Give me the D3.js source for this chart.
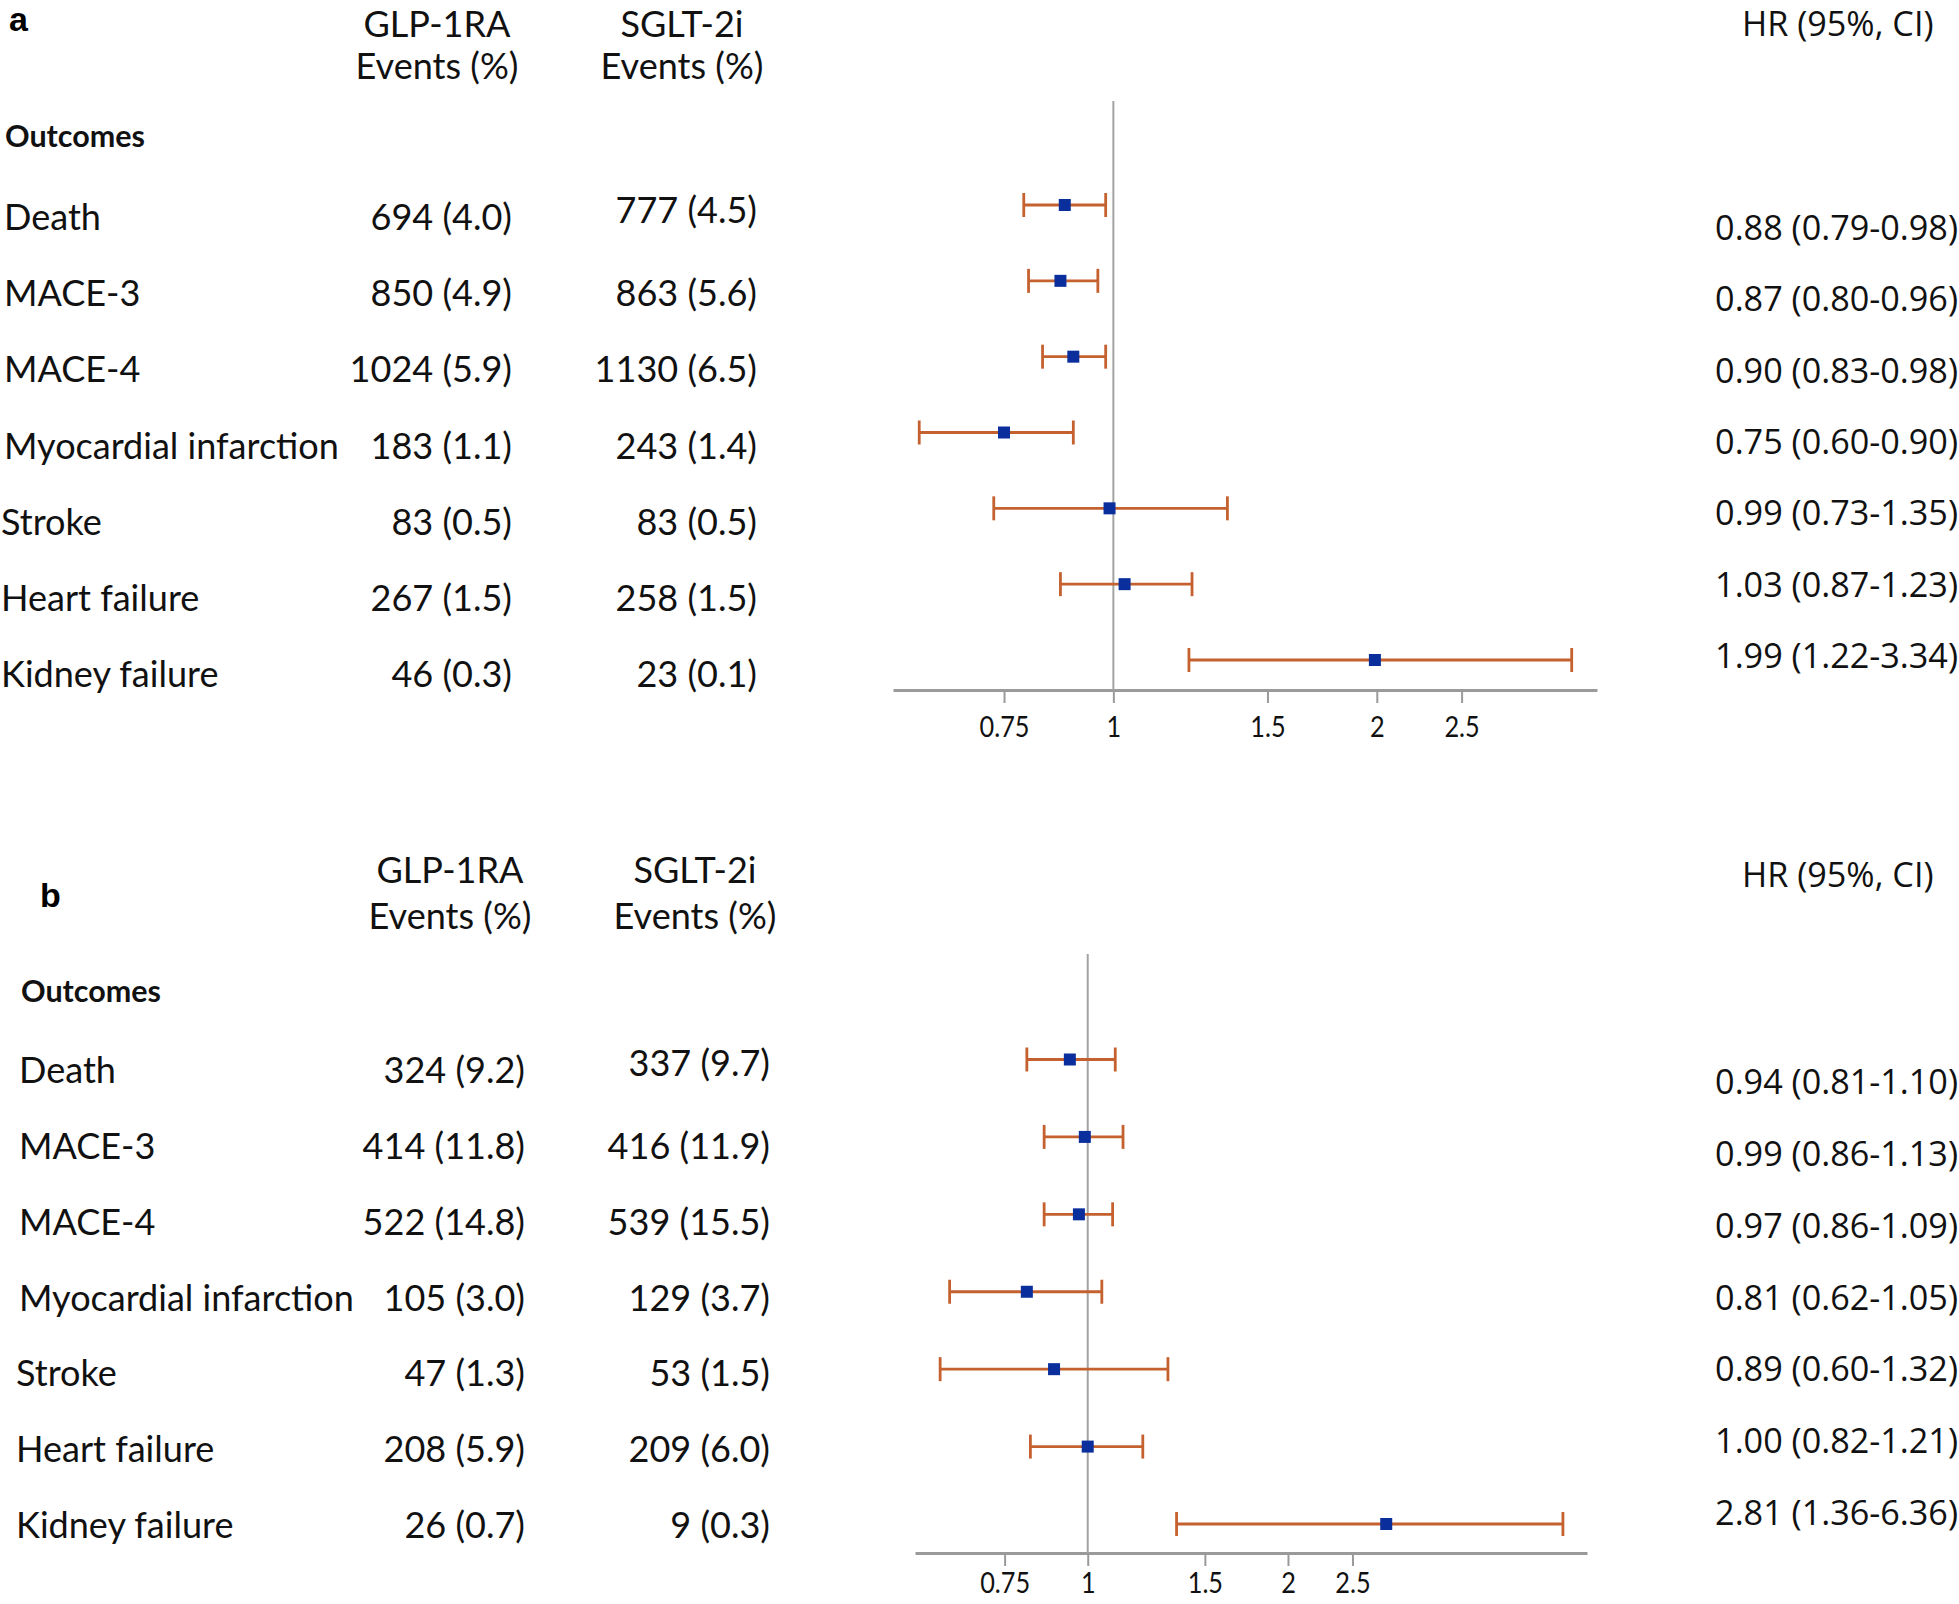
<!DOCTYPE html>
<html><head><meta charset="utf-8">
<script src="https://cdn.jsdelivr.net/npm/d3@7"></script>
<style>body{margin:0;background:#fff} svg{display:block}</style>
</head><body>
<svg id="c" width="1959" height="1604"></svg>
<script>
// ---------- data ----------
const outcomes = ["Death", "MACE-3", "MACE-4", "Myocardial infarction", "Stroke", "Heart failure", "Kidney failure"];
const tickValues = [0.75, 1, 1.5, 2, 2.5];

// panel a
const glpEventsA = [694, 850, 1024, 183, 83, 267, 46];
const glpPctA    = [4.0, 4.9, 5.9, 1.1, 0.5, 1.5, 0.3];
const sgltEventsA = [777, 863, 1130, 243, 83, 258, 23];
const sgltPctA    = [4.5, 5.6, 6.5, 1.4, 0.5, 1.5, 0.1];
const hrA  = [0.88, 0.87, 0.90, 0.75, 0.99, 1.03, 1.99];
const loA  = [0.79, 0.80, 0.83, 0.60, 0.73, 0.87, 1.22];
const hiA  = [0.98, 0.96, 0.98, 0.90, 1.35, 1.23, 3.34];

// panel b
const glpEventsB = [324, 414, 522, 105, 47, 208, 26];
const glpPctB    = [9.2, 11.8, 14.8, 3.0, 1.3, 5.9, 0.7];
const sgltEventsB = [337, 416, 539, 129, 53, 209, 9];
const sgltPctB    = [9.7, 11.9, 15.5, 3.7, 1.5, 6.0, 0.3];
const hrB  = [0.94, 0.99, 0.97, 0.81, 0.89, 1.00, 2.81];
const loB  = [0.81, 0.86, 0.86, 0.62, 0.60, 0.82, 1.36];
const hiB  = [1.10, 1.13, 1.09, 1.05, 1.32, 1.21, 6.36];
const whiskerMaxB = 5.18; // upper whisker is drawn truncated in the figure

// ---------- styles ----------
const LBL = "Lato, 'Open Sans', sans-serif";
const HRF = "'Open Sans', 'Noto Sans', sans-serif";
const LET = "'Liberation Sans', Arial, sans-serif";
const WHISKER = "#c5612f";
const SQUARE = "#0a2f9c";
const GREY = "#a3a3a3";

const svg = d3.select("#c");
svg.append("rect").attr("width", 1959).attr("height", 1604).attr("fill", "#fff");

function fitSize(family, weight, sample, target) {
  const t = svg.append("text").attr("font-family", family).attr("font-weight", weight)
    .attr("font-size", 100).text(sample);
  const w = t.node().getComputedTextLength();
  t.remove();
  return 100 * target / w;
}
const lblSize = fitSize(LBL, 400, "Myocardial infarction", 335);
const boldSize = fitSize(LBL, 700, "Outcomes", 140);
const hrSize = fitSize(HRF, 400, "0.88 (0.79-0.98)", 243);
const tickSize = fitSize(LBL, 400, "0.75", 50);

const fmtEv = (n, p) => `${n} (${p.toFixed(1)})`;
const fmtHr = (h, l, u) => `${h.toFixed(2)} (${l.toFixed(2)}-${u.toFixed(2)})`;

const panels = [
  { letter: "a", letterX: 9, letterY: 31, glpHdrX: 437, sgltHdrX: 682, hdrY1: 37, hdrY2: 79,
    hrHdrY: 36, outX: 5, outY: 147, labelX: 4, glpX: 512, sgltX: 757,
    textRows: [230, 687], hrRows: [240, 668], plotRows: [205, 660],
    refTop: 101, axisY: 690, tickOffset: 47, xRange: [893, 1597], xDomain: [0.56, 3.57],
    glpE: glpEventsA, glpP: glpPctA, sgE: sgltEventsA, sgP: sgltPctA,
    hr: hrA, lo: loA, hi: hiA, hiMax: Infinity },
  { letter: "b", letterX: 40, letterY: 907, glpHdrX: 450, sgltHdrX: 695, hdrY1: 883, hdrY2: 929,
    hrHdrY: 887, outX: 21, outY: 1002, labelX: 19, glpX: 525, sgltX: 770,
    textRows: [1083, 1538], hrRows: [1094, 1525], plotRows: [1059.5, 1524],
    refTop: 954, axisY: 1553, tickOffset: 40, xRange: [915, 1587], xDomain: [0.55, 5.63],
    glpE: glpEventsB, glpP: glpPctB, sgE: sgltEventsB, sgP: sgltPctB,
    hr: hrB, lo: loB, hi: hiB, hiMax: whiskerMaxB }
];

panels.forEach(p => {
  const g = svg.append("g");
  const tRow = d3.scalePoint().domain(outcomes).range(p.textRows);
  const hRow = d3.scalePoint().domain(outcomes).range(p.hrRows);
  const pRow = d3.scalePoint().domain(outcomes).range(p.plotRows);
  const x = d3.scaleLog().domain(p.xDomain).range(p.xRange);

  // panel letter
  g.append("text").attr("x", p.letterX).attr("y", p.letterY)
    .attr("font-family", LET).attr("font-weight", 700).attr("font-size", 34).text(p.letter);

  // column headers
  const hdr = (tx, y, s) => g.append("text").attr("x", tx).attr("y", y).attr("text-anchor", "middle")
    .attr("font-family", LBL).attr("font-size", lblSize).attr("fill", "#111").text(s);
  hdr(p.glpHdrX, p.hdrY1, "GLP-1RA");
  hdr(p.glpHdrX, p.hdrY2, "Events (%)");
  hdr(p.sgltHdrX, p.hdrY1, "SGLT-2i");
  hdr(p.sgltHdrX, p.hdrY2, "Events (%)");
  g.append("text").attr("x", 1742).attr("y", p.hrHdrY).attr("font-family", HRF)
    .attr("font-size", hrSize).attr("fill", "#111").text("HR (95%, CI)");
  g.append("text").attr("x", p.outX).attr("y", p.outY).attr("font-family", LBL)
    .attr("font-weight", 700).attr("font-size", boldSize).attr("fill", "#111").text("Outcomes");

  // rows of text
  const rows = outcomes.map((o, i) => ({ o, i }));
  g.selectAll(".lab").data(rows).join("text").attr("class", "lab")
    .attr("x", d => p.labelX - (d.i >= 4 ? 3 : 0)).attr("y", d => tRow(d.o))
    .attr("font-family", LBL).attr("font-size", lblSize).attr("fill", "#111").text(d => d.o);
  g.selectAll(".glp").data(rows).join("text").attr("class", "glp")
    .attr("x", p.glpX).attr("y", d => tRow(d.o)).attr("text-anchor", "end")
    .attr("font-family", LBL).attr("font-size", lblSize).attr("fill", "#111")
    .text(d => fmtEv(p.glpE[d.i], p.glpP[d.i]));
  g.selectAll(".sg").data(rows).join("text").attr("class", "sg")
    .attr("x", p.sgltX).attr("y", d => tRow(d.o) - (d.i === 0 ? 7 : 0)).attr("text-anchor", "end")
    .attr("font-family", LBL).attr("font-size", lblSize).attr("fill", "#111")
    .text(d => fmtEv(p.sgE[d.i], p.sgP[d.i]));
  g.selectAll(".hr").data(rows).join("text").attr("class", "hr")
    .attr("x", 1958).attr("y", d => hRow(d.o)).attr("text-anchor", "end")
    .attr("font-family", HRF).attr("font-size", hrSize).attr("fill", "#111")
    .text(d => fmtHr(p.hr[d.i], p.lo[d.i], p.hi[d.i]));

  // axis
  const ax = g.append("g").attr("transform", `translate(0,${p.axisY})`)
    .call(d3.axisBottom(x).tickValues(tickValues).tickFormat(d => String(d)).tickSize(13).tickSizeOuter(0));
  ax.select(".domain").attr("stroke", "#9a9a9a").attr("stroke-width", 3);
  ax.selectAll(".tick line").attr("stroke", "#9a9a9a").attr("stroke-width", 2);
  ax.selectAll(".tick text").attr("y", 0).attr("dy", 0).attr("fill", "#111")
    .attr("transform", `translate(0,${p.tickOffset}) scale(1,1.15)`)
    .attr("font-family", LBL).attr("font-size", tickSize);

  // reference line at HR = 1
  g.append("line").attr("x1", x(1)).attr("x2", x(1)).attr("y1", p.refTop).attr("y2", p.axisY)
    .attr("stroke", GREY).attr("stroke-width", 2);

  // whiskers
  const hiDraw = i => Math.min(p.hi[i], p.hiMax);
  g.selectAll(".wl").data(rows).join("line").attr("class", "wl")
    .attr("x1", d => x(p.lo[d.i])).attr("x2", d => x(hiDraw(d.i)))
    .attr("y1", d => pRow(d.o)).attr("y2", d => pRow(d.o))
    .attr("stroke", WHISKER).attr("stroke-width", 2.8);
  ["lo", "hi"].forEach(k => {
    g.selectAll(".cap" + k).data(rows).join("line").attr("class", "cap" + k)
      .attr("x1", d => x(k === "lo" ? p.lo[d.i] : hiDraw(d.i)))
      .attr("x2", d => x(k === "lo" ? p.lo[d.i] : hiDraw(d.i)))
      .attr("y1", d => pRow(d.o) - 12).attr("y2", d => pRow(d.o) + 12)
      .attr("stroke", WHISKER).attr("stroke-width", 2.8);
  });
  g.selectAll(".pt").data(rows).join("rect").attr("class", "pt")
    .attr("x", d => x(p.hr[d.i]) - 6).attr("y", d => pRow(d.o) - 6)
    .attr("width", 12).attr("height", 12).attr("fill", SQUARE);
});
</script>
</body></html>
